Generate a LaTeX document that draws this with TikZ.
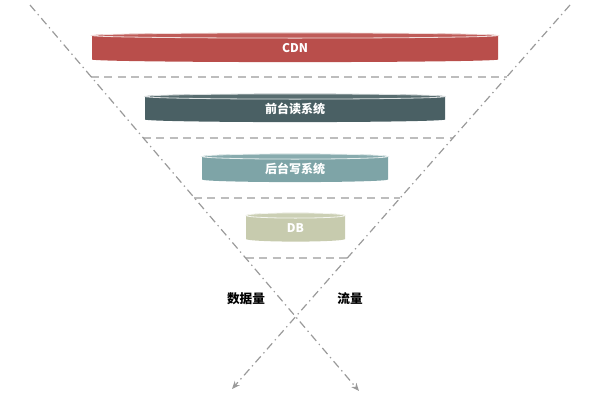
\documentclass[tikz,border=0pt]{standalone}
\usepackage{fontspec}
\setmainfont{Noto Sans CJK SC}
\usetikzlibrary{arrows.meta}
\definecolor{cdnc}{HTML}{B94E4B}
\definecolor{frontc}{HTML}{4A6064}
\definecolor{backc}{HTML}{7EA4A7}
\definecolor{dbc}{HTML}{C7CBAE}
\definecolor{axisc}{HTML}{9A9A9A}
\definecolor{sepc}{HTML}{BDBDBD}
\tikzset{
  axisline/.style={draw=axisc, line width=0.9pt, dash pattern=on 6pt off 3pt on 1pt off 3pt, -{Stealth[length=6pt,width=5pt]}},
  sepline/.style={draw=sepc, line width=0.8pt, dash pattern=on 6pt off 4pt},
  disctext/.style={text=white, font=\fontsize{9}{10}\selectfont\bfseries, inner sep=0pt},
  axislabel/.style={text=black, font=\fontsize{9.5}{11}\selectfont\bfseries, inner sep=0pt}
}
\newcommand{\mydisc}[6]{% x1, x2, ytop, ybot, e, color
  \pgfmathsetmacro{\rx}{(#2-#1)/2}
  \pgfmathsetmacro{\cx}{(#1+#2)/2}
  \fill[#6] (#1,#3) -- (#1,#4) arc[start angle=180,end angle=0,x radius=\rx,y radius=#5] -- (#2,#3) arc[start angle=0,end angle=-180,x radius=\rx,y radius=#5] -- cycle;
  \filldraw[fill=#6!92!white, draw=white!80!#6, line width=0.6pt] (\cx,#3) ellipse[x radius=\rx, y radius=#5];
}
\begin{document}
\begin{tikzpicture}[x=0.75pt,y=-0.75pt]
\useasboundingbox (0,0) rectangle (600,400);
% axis ends
\coordinate (ltop) at (30,5);
\coordinate (lbot) at (359,391);
\coordinate (rtop) at (570,5);
\coordinate (rbot) at (232,389);
% separator ends
\coordinate (s1l) at (91,77);   \coordinate (s1r) at (507,77);
\coordinate (s2l) at (143,138); \coordinate (s2r) at (453,138);
\coordinate (s3l) at (194,198); \coordinate (s3r) at (400,198);
\coordinate (s4l) at (246,258); \coordinate (s4r) at (347,258);
\draw[sepline] (s1l) -- (s1r);
\draw[sepline] (s2l) -- (s2r);
\draw[sepline] (s3l) -- (s3r);
\draw[sepline] (s4l) -- (s4r);
\draw[axisline] (ltop) -- (lbot);
\draw[axisline] (rtop) -- (rbot);
% discs
\mydisc{92}{498}{35.5}{59.5}{2.6}{cdnc}
\mydisc{145}{445}{96.5}{119.5}{2.6}{frontc}
\mydisc{202}{388}{156.5}{179.5}{2.6}{backc}
\mydisc{246}{345}{215.5}{239}{2.6}{dbc}
\node[disctext] (cdn) at (295,48) {CDN};
\node[disctext] (front) at (295,108.5) {前台读系统};
\node[disctext] (back) at (295,168.5) {后台写系统};
\node[disctext] (db) at (295.5,228.5) {DB};
\node[axislabel] (data) at (246,299) {数据量};
\node[axislabel] (flow) at (350,299) {流量};
\end{tikzpicture}
\end{document}
